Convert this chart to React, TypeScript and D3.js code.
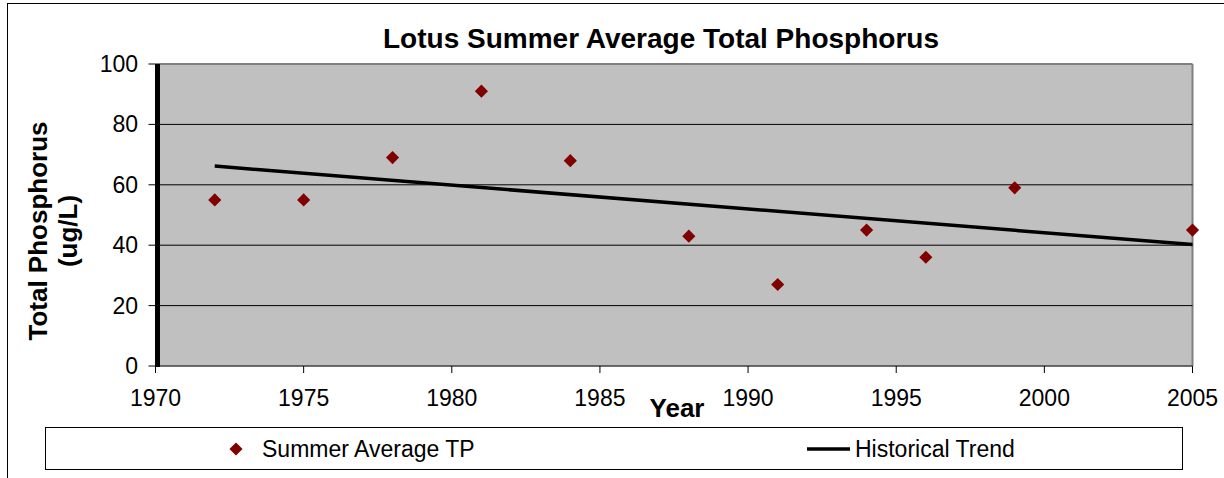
import React from 'react';
import * as d3 from 'd3';

const years = [1972, 1975, 1978, 1981, 1984, 1988, 1991, 1994, 1996, 1999, 2005];
const tpValues = [55, 55, 69, 91, 68, 43, 27, 45, 36, 59, 45];
const trendYears = [1972, 2005];
const trendValues = [66.2, 40.2];
const xTicks = [1970, 1975, 1980, 1985, 1990, 1995, 2000, 2005];
const yTicks = [0, 20, 40, 60, 80, 100];

const W = 1224;
const H = 478;
const font = '"Liberation Sans", Arial, sans-serif';

export default function App() {
  const left = 155.5, right = 1192.5, top = 64, bottom = 366;
  const x = d3.scaleLinear().domain([1970, 2005]).range([left, right]);
  const y = d3.scaleLinear().domain([0, 100]).range([bottom, top]);

  const trendLine = d3.line<number>()
    .x((d, i) => x(trendYears[i]))
    .y((d) => y(d));

  const diamond = d3.symbol().type(d3.symbolDiamond2).size(110)();

  return (
    <div style={{ position: 'absolute', left: 0, top: 0 }}>
      <svg width={W} height={H} style={{ display: 'block', background: '#fff' }}>
        {/* outer frame */}
        <rect x={7.5} y={3.5} width={W} height={H} fill="#fff" stroke="#000" strokeWidth={1} />

        <text x={661} y={48} textAnchor="middle" fontFamily={font} fontSize={28} fontWeight="bold">
          Lotus Summer Average Total Phosphorus
        </text>

        {/* plot area */}
        <rect x={left} y={top} width={right - left} height={bottom - top} fill="#c0c0c0" />
        <line x1={left} x2={right} y1={top} y2={top} stroke="#808080" strokeWidth={2} />
        <line x1={right} x2={right} y1={top} y2={bottom} stroke="#808080" strokeWidth={2} />

        {yTicks.filter((t) => t > 0 && t < 100).map((t) => (
          <line key={t} x1={left} x2={right} y1={y(t)} y2={y(t)} stroke="#000" strokeWidth={1} />
        ))}

        {/* x axis */}
        <line x1={left} x2={right} y1={bottom} y2={bottom} stroke="#404040" strokeWidth={1.5} />
        {xTicks.map((t) => (
          <g key={t}>
            <line x1={x(t)} x2={x(t)} y1={bottom} y2={bottom + 7} stroke="#000" strokeWidth={1} />
            <text x={x(t)} y={406} textAnchor="middle" fontFamily={font} fontSize={23}>{t}</text>
          </g>
        ))}

        {/* y axis */}
        {yTicks.map((t) => (
          <g key={t}>
            <line x1={left - 7} x2={left} y1={y(t)} y2={y(t)} stroke="#000" strokeWidth={1} />
            <text x={138} y={y(t) + 8} textAnchor="end" fontFamily={font} fontSize={23}>{t}</text>
          </g>
        ))}
        <rect x={155} y={top} width={5} height={bottom - top + 1} fill="#000" />

        {/* trend */}
        <path d={trendLine(trendValues) || ''} fill="none" stroke="#000" strokeWidth={3.5} />

        {/* points */}
        {years.map((yr, i) => (
          <path key={yr} d={diamond || ''} transform={`translate(${x(yr)},${y(tpValues[i])})`} fill="#800000" />
        ))}

        {/* axis titles */}
        <text x={677} y={417} textAnchor="middle" fontFamily={font} fontSize={26} fontWeight="bold">Year</text>
        <g transform="translate(0,231) rotate(-90)">
          <text x={0} y={47} textAnchor="middle" fontFamily={font} fontSize={26} fontWeight="bold">Total Phosphorus</text>
          <text x={0} y={77} textAnchor="middle" fontFamily={font} fontSize={26} fontWeight="bold">(ug/L)</text>
        </g>

        {/* legend */}
        <rect x={45.5} y={427.5} width={1137} height={42} fill="#fff" stroke="#000" strokeWidth={1} />
        <path d={diamond || ''} transform="translate(236,449)" fill="#800000" />
        <text x={262} y={457} fontFamily={font} fontSize={23}>Summer Average TP</text>
        <line x1={807} x2={850} y1={449} y2={449} stroke="#000" strokeWidth={3.5} />
        <text x={855} y={457} fontFamily={font} fontSize={23}>Historical Trend</text>
      </svg>
    </div>
  );
}
